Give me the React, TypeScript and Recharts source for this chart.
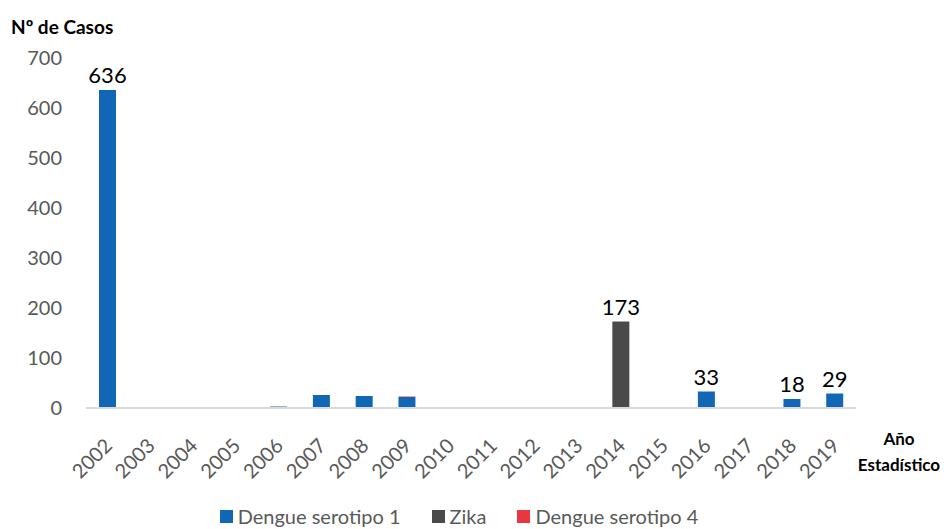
import React from "react";
import { BarChart, Bar, XAxis, YAxis, Legend, LabelList } from "recharts";

const years = ["2002","2003","2004","2005","2006","2007","2008","2009","2010","2011","2012","2013","2014","2015","2016","2017","2018","2019"];
const dengue1 = [636, 0, 0, 0, 3, 26, 24, 22, 0, 0, 0, 0, 0, 0, 33, 0, 18, 29];
const zika = [0, 0, 0, 0, 0, 0, 0, 0, 0, 0, 0, 0, 173, 0, 0, 0, 0, 0];
const dengue4 = [0, 0, 0, 0, 0, 0, 0, 1, 0, 0, 0, 0, 0, 0, 0, 0, 0, 0];
const showLabel = [true, false, false, false, false, false, false, false, false, false, false, false, true, false, true, false, true, true];
const yTicks = [0, 100, 200, 300, 400, 500, 600, 700];

const BLUE = "#1167b5";
const GRAY = "#4a4a4a";
const RED = "#e8383f";
const FONT = "Lato, 'Open Sans', sans-serif";

const data = years.map((y, i) => {
  const total = dengue1[i] + zika[i] + dengue4[i];
  return {
    year: y,
    d1: dengue1[i],
    zika: zika[i],
    d4: dengue4[i],
    lblD1: showLabel[i] && zika[i] === 0 ? String(total) : "",
    lblZika: showLabel[i] && zika[i] > 0 ? String(total) : "",
  };
});

const renderLabel = (props: any) => {
  const { x, y, width, value } = props;
  if (!value) return null;
  return (
    <text x={Number(x) + Number(width) / 2} y={Number(y) - 7} textAnchor="middle" fontSize={22} fill="#000" fontFamily={FONT}>
      {value}
    </text>
  );
};

const XTick = (props: any) => {
  const { x, y, payload } = props;
  const ax = x + 6;
  const ay = y + 31;
  return (
    <text x={ax} y={ay} transform={`rotate(-45, ${ax}, ${ay})`} textAnchor="end" fontSize={20} fill="#595959" fontFamily={FONT}>
      {payload.value}
    </text>
  );
};

const legendItems = [
  { label: "Dengue serotipo 1", color: BLUE },
  { label: "Zika", color: GRAY },
  { label: "Dengue serotipo 4", color: RED },
];

const LegendContent = () => (
  <div style={{ display: "flex", justifyContent: "center", gap: 31, fontFamily: FONT, fontSize: 20, color: "#595959", lineHeight: "25px", paddingLeft: 62 }}>
    {legendItems.map((it) => (
      <div key={it.label} style={{ display: "flex", alignItems: "center" }}>
        <span style={{ display: "inline-block", width: 13, height: 13, background: it.color, marginRight: 5 }} />
        <span>{it.label}</span>
      </div>
    ))}
  </div>
);

export default function App() {
  return (
    <div style={{ position: "relative", width: 948, height: 529, marginLeft: -8, marginTop: -8, background: "#fff", overflow: "hidden" }}>
      <div style={{ position: "absolute", left: 11, top: 15, fontFamily: FONT, fontWeight: 700, fontSize: 19, color: "#000" }}>
        Nº de Casos
      </div>
      <div style={{ position: "absolute", left: 852, top: 426, width: 94, textAlign: "center", fontFamily: FONT, fontWeight: 700, fontSize: 17, lineHeight: "26px", color: "#000" }}>
        Año<br />Estadístico
      </div>
      <BarChart width={948} height={529} data={data} margin={{ top: 58, right: 92, left: 0, bottom: 0 }} barSize={17}>
        <XAxis dataKey="year" tick={<XTick />} tickLine={false} axisLine={{ stroke: "#d9d9d9", strokeWidth: 2 }} interval={0} height={96} />
        <YAxis width={86} domain={[0, 700]} ticks={yTicks} tickLine={false} axisLine={false} tickSize={0} tickMargin={24} tick={{ fontSize: 20, fill: "#595959", fontFamily: FONT }} />
        <Legend verticalAlign="bottom" content={<LegendContent />} />
        <Bar dataKey="d1" stackId="a" fill={BLUE} isAnimationActive={false}>
          <LabelList dataKey="lblD1" content={renderLabel} />
        </Bar>
        <Bar dataKey="zika" stackId="a" fill={GRAY} isAnimationActive={false}>
          <LabelList dataKey="lblZika" content={renderLabel} />
        </Bar>
        <Bar dataKey="d4" stackId="a" fill={RED} isAnimationActive={false} />
      </BarChart>
    </div>
  );
}
